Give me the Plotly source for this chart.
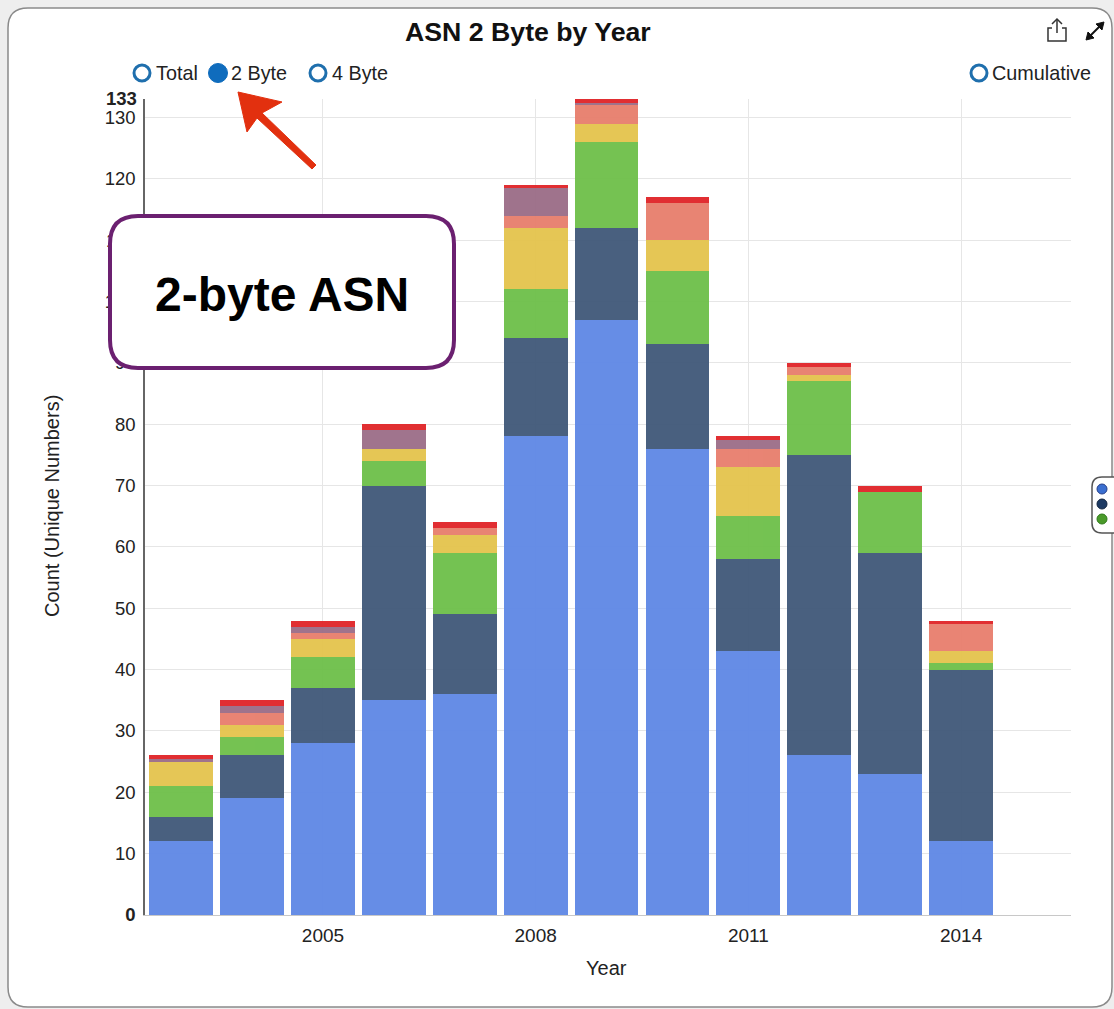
import plotly.graph_objects as go

years = [2003, 2004, 2005, 2006, 2007, 2008, 2009, 2010, 2011, 2012, 2013, 2014]
seg_blue = [12, 19, 28, 35, 36, 78, 97, 76, 43, 26, 23, 12]
seg_navy = [4, 7, 9, 35, 13, 16, 15, 17, 15, 49, 36, 28]
seg_green = [5, 3, 5, 4, 10, 8, 14, 12, 7, 12, 10, 1]
seg_yellow = [4, 2, 3, 2, 3, 10, 3, 5, 8, 1, 0, 2]
seg_salmon = [0, 2, 1, 0, 1, 2, 3, 6, 3, 1.3, 0, 4.5]
seg_purple = [0.4, 1, 1, 3, 0, 4.5, 0.4, 0, 1.5, 0, 0, 0]
seg_red = [0.6, 1, 1, 1, 1, 0.5, 0.6, 1, 0.5, 0.7, 1, 0.5]
series = [
    ("Blue", seg_blue, "#6089e6"), ("Navy", seg_navy, "#425a7a"), ("Green", seg_green, "#6fc04b"),
    ("Yellow", seg_yellow, "#e4c44f"), ("Salmon", seg_salmon, "#e87f6e"),
    ("Purple", seg_purple, "#9c6e88"), ("Red", seg_red, "#e0262a"),
]
y_ticks = list(range(0, 131, 10))
x_ticks = [2005, 2008, 2011, 2014]

W, H = 1114, 1009
X = lambda v: v / W
Y = lambda v: 1 - v / H


def poly(points, close=True):
    s = "M " + " L ".join(f"{X(a):.5f},{Y(b):.5f}" for a, b in points)
    return s + (" Z" if close else "")


def rrect(x0, y0, x1, y1, r):
    def p(a, b):
        return f"{X(a):.5f},{Y(b):.5f}"
    return (f"M {p(x0+r,y0)} L {p(x1-r,y0)} Q {p(x1,y0)} {p(x1,y0+r)} L {p(x1,y1-r)} Q {p(x1,y1)} {p(x1-r,y1)} "
            f"L {p(x0+r,y1)} Q {p(x0,y1)} {p(x0,y1-r)} L {p(x0,y0+r)} Q {p(x0,y0)} {p(x0+r,y0)} Z")


def path(d, fill="rgba(0,0,0,0)", line="rgba(0,0,0,0)", width=1, layer="above"):
    return dict(type="path", xref="paper", yref="paper", path=d, fillcolor=fill,
                line=dict(color=line, width=width), layer=layer)


def circle(cx, cy, r, fill, line, width):
    return dict(type="circle", xref="paper", yref="paper", x0=X(cx - r), x1=X(cx + r),
                y0=Y(cy + r), y1=Y(cy - r), fillcolor=fill, line=dict(color=line, width=width), layer="above")


def text(t, x, y, size=18, anchor="left", color="#222", angle=0):
    return dict(text=t, xref="paper", yref="paper", x=X(x), y=Y(y), xanchor=anchor, yanchor="middle",
                showarrow=False, textangle=angle, font=dict(size=size, color=color))


fig = go.Figure()
for name, vals, col in series:
    fig.add_trace(go.Bar(x=years, y=vals, name=name, marker=dict(color=col, line_width=0), opacity=0.96, width=0.9))

shapes = [
    path(rrect(8, 8, 1112, 1007, 20), "#ffffff", "#8a8a8a", 1.5, "below"),
    path(rrect(110, 216, 454, 368, 28), "#ffffff", "#6b2070", 4),
    # red hand-drawn arrow
    path(poly([(238, 92), (282, 102), (262, 113), (316, 165), (312, 169), (257, 118), (247, 132)]), "#e2300f", "#e2300f", 1),
    # selector radio buttons
    circle(142, 73, 8, "#ffffff", "#1f6fad", 3),
    circle(218, 73, 9.5, "#0f6cbd", "#0f6cbd", 1),
    circle(318, 73, 8, "#ffffff", "#1f6fad", 3),
    circle(979, 73, 8, "#ffffff", "#1f6fad", 3),
    # share icon
    path(poly([(1052, 28), (1048, 28), (1048, 41), (1066, 41), (1066, 28), (1062, 28)], False), line="#333", width=1.5),
    path(poly([(1057, 33), (1057, 19)], False), line="#333", width=1.5),
    path(poly([(1052, 24), (1057, 19), (1062, 24)], False), line="#333", width=1.5),
    # expand icon
    path(poly([(1090, 36), (1100, 26)], False), line="#111", width=2),
    path(poly([(1086, 40), (1094, 38), (1088, 32)]), "#111", "#111", 1),
    path(poly([(1104, 22), (1096, 24), (1102, 30)]), "#111", "#111", 1),
    # side tab
    path(rrect(1092, 477, 1124, 533, 10), "#ffffff", "#555", 1.5),
    circle(1102, 489, 5, "#3b6fd0", "#26408a", 1),
    circle(1102, 504, 5, "#1d3a63", "#14263f", 1),
    circle(1102, 519, 5, "#4a9a2a", "#2f7a1a", 1),
]

annotations = [
    text("<b>ASN 2 Byte by Year</b>", 528, 32, 26.7, "center", "#111"),
    text("Total", 154, 73, 19.8),
    text("2 Byte", 229, 73, 19.8),
    text("4 Byte", 330, 73, 19.8),
    text("Cumulative", 990, 73, 19.8),
    text("<b>133</b>", 139, 98, 18.5, "right"),
    text("<b>2-byte ASN</b>", 282, 294, 48, "center", "#000"),
    text("Year", 606, 968, 20, "center"),
    text("Count (Unique Numbers)", 52, 506, 20, "center", angle=-90),
]

fig.update_layout(
    width=W, height=H, barmode="stack", showlegend=False, bargap=0.1,
    paper_bgcolor="#eeeeee", plot_bgcolor="rgba(0,0,0,0)",
    margin=dict(l=0, r=0, t=0, b=0),
    font=dict(family="Liberation Sans, Arial, sans-serif", color="#222", size=16),
    shapes=shapes, annotations=annotations,
    xaxis=dict(domain=[145 / W, 1071 / W], range=[2002.49, 2015.55], tickvals=x_ticks, automargin=False,
               showgrid=True, gridcolor="#e6e6e6", gridwidth=1, zeroline=False, showline=True,
               linecolor="#c8c8c8", ticks="", tickfont=dict(size=19), ticklabelstandoff=3),
    yaxis=dict(domain=[1 - 915 / H, 1 - 99 / H], range=[0, 133], tickvals=y_ticks, automargin=False,
               ticktext=[f"<b>{v}</b>" if v == 0 else str(v) for v in y_ticks],
               showgrid=True, gridcolor="#e6e6e6", gridwidth=1, zeroline=False, showline=True,
               linecolor="#666", linewidth=1.5, ticks="", tickfont=dict(size=18.5), ticklabelstandoff=4),
)
fig.write_html("out.html", config={"displayModeBar": False}, post_script="document.body.style.margin='0';")
